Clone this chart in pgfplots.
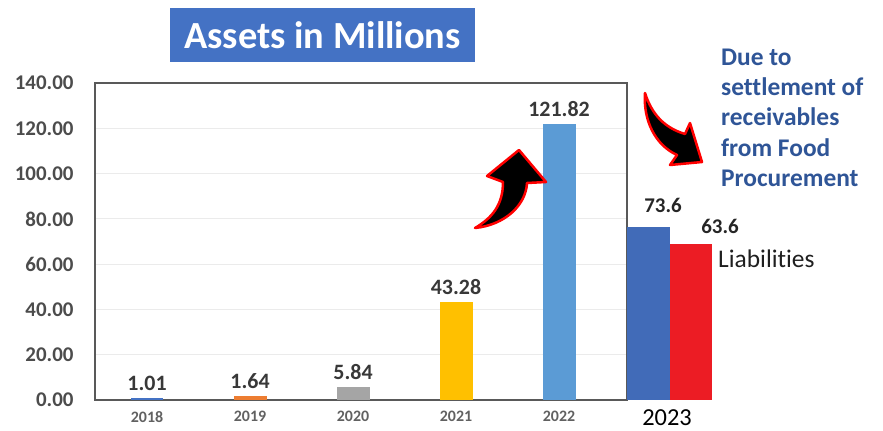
\documentclass[border=0pt]{standalone}
\usepackage{pgfplots}
\pgfplotsset{compat=1.18}
\usepackage{fontspec}
\setmainfont{Carlito}[Ligatures=NoCommon]

\definecolor{cBlue}{HTML}{4472C4}
\definecolor{cOrange}{HTML}{ED7D31}
\definecolor{cGray}{HTML}{A5A5A5}
\definecolor{cGold}{HTML}{FFC000}
\definecolor{cLight}{HTML}{5B9BD5}
\definecolor{cBlueB}{HTML}{416BB8}
\definecolor{cRed}{HTML}{EC1C24}
\definecolor{cNote}{HTML}{2F5597}

\pgfplotsset{
  lbl/.style={nodes near coords={\pgfmathprintnumber[fixed,fixed zerofill,precision=2]{\pgfplotspointmeta}},
    every node near coord/.append style={font=\fontsize{22}{26}\selectfont\bfseries, text=black!78, yshift=4bp}},
}

\begin{document}
\begin{tikzpicture}[x=1bp,y=1bp]
\useasboundingbox (0,0) rectangle (883,430);
\begin{axis}[
  at={(95bp,30bp)}, anchor=south west,
  scale only axis, width=532bp, height=317bp,
  xmin=-0.505, xmax=4.66, ymin=0, ymax=140,
  ybar, bar width=0.32,
  clip=false,
  axis line style={color=black!65, line width=1.6bp},
  major tick length=0pt,
  ytick={0,20,...,140},
  /pgf/number format/assume math mode=true,
  yticklabel style={/pgf/number format/.cd, fixed, fixed zerofill, precision=2, /tikz/.cd,
    font=\fontsize{21}{24}\selectfont\bfseries, text=black!70, xshift=-18bp},
  xtick={0,1,2,3,4},
  xticklabels={2018,2019,2020,2021,2022},
  xticklabel style={font=\fontsize{16}{19}\selectfont\bfseries, text=black!62, yshift=-8bp},
  ymajorgrids, grid style={color=black!8, line width=1bp},
]
\addplot[fill=cBlue, draw=none, bar shift=0pt, lbl] coordinates {(0,1.01)};
\addplot[fill=cOrange, draw=none, bar shift=0pt, lbl] coordinates {(1,1.64)};
\addplot[fill=cGray, draw=none, bar shift=0pt, lbl] coordinates {(2,5.84)};
\addplot[fill=cGold, draw=none, bar shift=0pt, lbl] coordinates {(3,43.28)};
\addplot[fill=cLight, draw=none, bar shift=0pt, lbl] coordinates {(4,121.82)};
% 2023 panel (pasted beside the chart, drawn taller than its labels)
\addplot[fill=cBlueB, draw=none, bar shift=0pt, bar width=0.415] coordinates {(4.865,76.4)};
\addplot[fill=cRed, draw=none, bar shift=0pt, bar width=0.415] coordinates {(5.28,68.9)};
\end{axis}

\begin{scope}[shift={(0,430)}, yscale=-1]
  \node[fill=cBlue, text=white, font=\fontsize{38.5}{42}\selectfont\bfseries,
        minimum width=305bp, minimum height=54bp, inner sep=0] at (322.5,35) {Assets in Millions};
  \begin{scope}[every node/.style={anchor=base west, inner sep=0, text=cNote,
        font=\fontsize{25.5}{30}\selectfont\bfseries}]
    \node at (721,65) {Due to};
    \node at (721,95.3) {settlement of};
    \node at (721,125.6) {receivables};
    \node at (721,156) {from Food};
    \node at (721,186) {Procurement};
  \end{scope}
  \node[anchor=base west, inner sep=0, text=black!88, font=\fontsize{25.5}{30}\selectfont] at (718,267) {Liabilities};
  \node[anchor=base, inner sep=0, text=black!85, font=\fontsize{21}{24}\selectfont\bfseries] at (663,212) {73.6};
  \node[anchor=base, inner sep=0, text=black!85, font=\fontsize{21}{24}\selectfont\bfseries] at (720,233) {63.6};
  \node[anchor=base, inner sep=0, text=black, font=\fontsize{24.5}{28}\selectfont] at (667,425) {2023};
  % curved arrows
  \filldraw[fill=black, draw=red, line width=2.5bp, line join=round]
    (475,228) .. controls (492,218) and (503,205) .. (503,182) -- (487,176) -- (519,150)
    -- (546,182) -- (527,183) .. controls (526,205) and (505,225) .. (475,228) -- cycle;
  \filldraw[fill=black, draw=red, line width=2.5bp, line join=round]
    (645,93) .. controls (652,115) and (665,128) .. (685,134) -- (690,123) -- (702,162)
    -- (670,165) -- (677,155) .. controls (655,145) and (643,120) .. (645,93) -- cycle;
\end{scope}
\end{tikzpicture}
\end{document}
